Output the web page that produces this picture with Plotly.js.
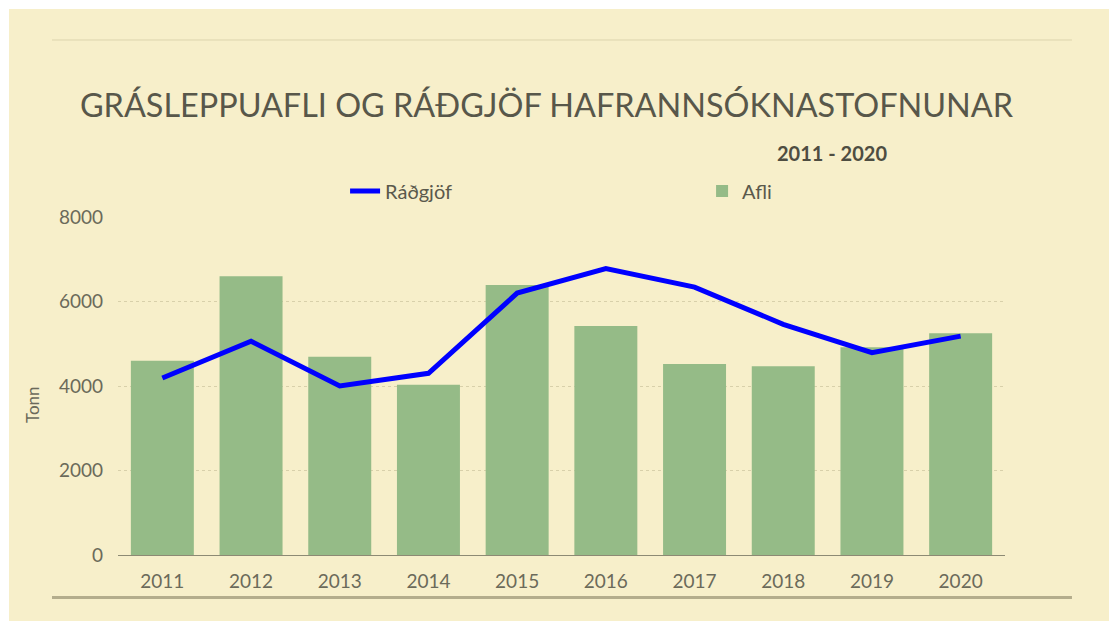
<!DOCTYPE html>
<html>
<head>
<meta charset="utf-8">
<script src="https://cdn.plot.ly/plotly-3.0.1.min.js"></script>
<style>
  html, body { margin: 0; padding: 0; background: #ffffff; width: 1109px; height: 621px; overflow: hidden; }
  #chart { position: absolute; left: 9px; top: 9px; width: 1100px; height: 612px; }
</style>
</head>
<body>
<div id="chart"></div>
<script>
const years = ['2011', '2012', '2013', '2014', '2015', '2016', '2017', '2018', '2019', '2020'];
const afli = [4600, 6600, 4690, 4030, 6390, 5420, 4520, 4470, 4920, 5250];
const radgjof = [4190, 5060, 4000, 4300, 6200, 6780, 6340, 5460, 4790, 5180];
const yTicks = [0, 2000, 4000, 6000, 8000];

const cream = '#f7efca';
const textCol = '#5e5d4f';
const font = 'Lato, "Open Sans", "DejaVu Sans", sans-serif';

const traces = [
  {
    type: 'scatter', mode: 'lines', name: 'Ráðgjöf',
    x: years, y: radgjof,
    line: { color: '#0000ff', width: 5 },
    hoverinfo: 'skip'
  },
  {
    type: 'bar', name: 'Afli',
    x: years, y: afli,
    marker: { color: '#95bb87' },
    hoverinfo: 'skip'
  }
];

const layout = {
  width: 1100, height: 612,
  paper_bgcolor: cream, plot_bgcolor: 'rgba(0,0,0,0)',
  margin: { l: 109, r: 104, t: 208, b: 66 },
  font: { family: font, color: textCol },
  bargap: 0.29,
  showlegend: true,
  title: {
    text: 'GRÁSLEPPUAFLI OG RÁÐGJÖF HAFRANNSÓKNASTOFNUNAR',
    font: { family: font, size: 32.4, color: '#58574a' },
    xref: 'container', yref: 'container',
    x: 0.0645, xanchor: 'left',
    y: 1 - (106 - 9) / 612, yanchor: 'middle'
  },
  legend: {
    orientation: 'h',
    x: 0.256, xanchor: 'left',
    y: 1.077, yanchor: 'middle',
    bgcolor: 'rgba(0,0,0,0)',
    font: { family: font, size: 20, color: '#5a594c' },
    entrywidth: 312, entrywidthmode: 'pixels',
    traceorder: 'normal'
  },
  xaxis: {
    type: 'category',
    showline: true, linecolor: '#8d8a74', linewidth: 1,
    showgrid: false, zeroline: false,
    ticks: '',
    ticklabelstandoff: 9,
    tickfont: { family: font, size: 19, color: '#6b6a5a' }
  },
  yaxis: {
    range: [0, 8000],
    tickvals: yTicks,
    ticktext: yTicks.map(String),
    showline: false, zeroline: false,
    showgrid: true, gridcolor: '#d8d0aa', griddash: 'dot', gridwidth: 1,
    ticks: '',
    ticklabelstandoff: 14,
    tickfont: { family: font, size: 19, color: '#6b6a5a' }
  },
  shapes: [
    { type: 'line', xref: 'paper', yref: 'paper',
      x0: -0.0744, x1: 1.0755, y0: 1.5237, y1: 1.5237,
      line: { color: '#dcd4ae', width: 1 } },
    { type: 'line', xref: 'paper', yref: 'paper',
      x0: -0.0744, x1: 1.0755, y0: -0.1257, y1: -0.1257,
      line: { color: '#b4ad8c', width: 3 } }
  ],
  annotations: [
    { text: '<b>2011 - 2020</b>', xref: 'paper', yref: 'paper',
      x: 0.8045, y: 1.189, xanchor: 'center', yanchor: 'middle',
      showarrow: false, font: { family: font, size: 20, color: '#4e4d41' } },
    { text: 'Tonn', xref: 'paper', yref: 'paper',
      x: (32 - 118) / 887, y: (555 - 405) / 338, xanchor: 'center', yanchor: 'middle',
      textangle: -90, showarrow: false,
      font: { family: font, size: 17, color: '#6b6a5a' } }
  ]
};

Plotly.newPlot('chart', traces, layout, { displayModeBar: false, staticPlot: true });
</script>
</body>
</html>
